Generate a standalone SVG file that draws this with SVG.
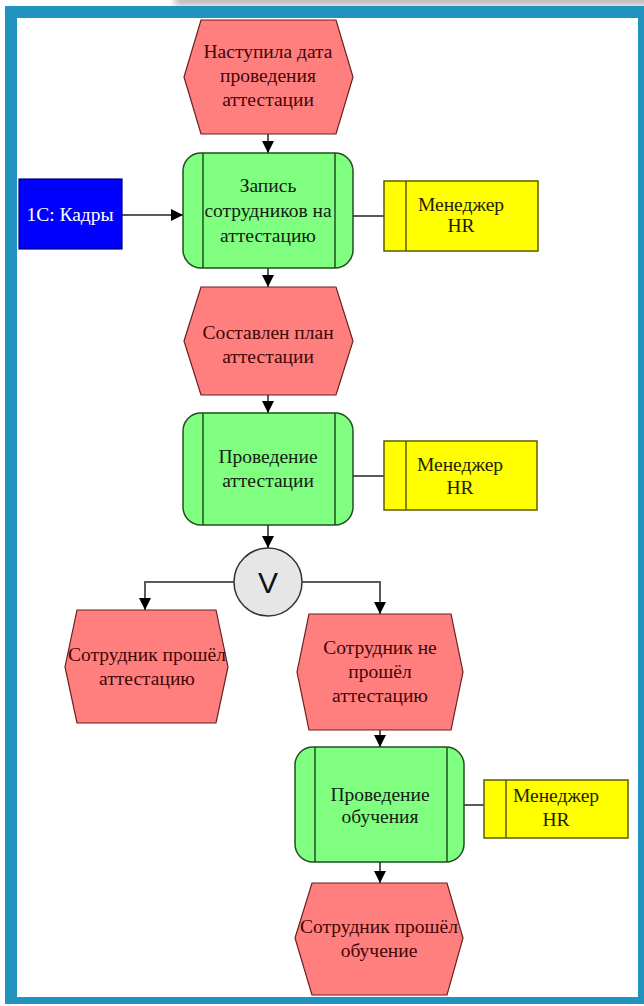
<svg xmlns="http://www.w3.org/2000/svg" width="644" height="1006" viewBox="0 0 644 1006">
  <style>
    .frame { fill: #2293be; }
    .sheet { fill: #ffffff; }
    .event { fill: #ff7f7f; stroke: #6b1f1f; stroke-width: 1.2; }
    .func { fill: #80ff80; stroke: #1f4f1f; stroke-width: 1.5; }
    .func-bar { stroke: #1f4f1f; stroke-width: 1.5; }
    .role { fill: #ffff00; stroke: #5c5c00; stroke-width: 1.5; }
    .role-bar { stroke: #5c5c00; stroke-width: 1.5; }
    .system { fill: #0000ff; stroke: #00007a; stroke-width: 1.2; }
    .gate { fill: #e6e6e6; stroke: #333333; stroke-width: 1.5; }
    .t { font-family: "Liberation Serif", "Times New Roman", serif; font-size: 19.5px; text-anchor: middle; }
    .t-event { fill: #420606; }
    .t-func { fill: #142014; }
    .t-role { fill: #1e1e00; }
    .t-system { fill: #ffffff; }
    .t-gate { font-family: "Liberation Sans", Arial, sans-serif; font-size: 30px; text-anchor: middle; fill: #111111; }
    .link { fill: none; stroke: #5a5a5a; stroke-width: 2; }
  </style>
  <defs>
    <marker id="arrow" markerUnits="userSpaceOnUse" markerWidth="12" markerHeight="12" viewBox="0 0 12 12" refX="12" refY="6" orient="auto">
      <path d="M0,0 L12,6 L0,12 Z" fill="#000000"/>
    </marker>
    <filter id="soft" x="-10%" y="-100%" width="120%" height="300%">
      <feGaussianBlur stdDeviation="3"/>
    </filter>
  </defs>

  <!-- page background, drop shadow and framed sheet -->
  <rect x="0" y="0" width="644" height="1006" fill="#ffffff"/>
  <rect x="175" y="-6" width="480" height="12" fill="#bdbdbd" filter="url(#soft)"/>
  <rect class="frame" x="5" y="6" width="650" height="998"/>
  <rect class="sheet" x="17" y="18" width="621" height="979"/>

  <!-- connectors -->
  <g id="connectors">
    <line class="link" x1="268" y1="134" x2="268" y2="153" marker-end="url(#arrow)"/>
    <line class="link" x1="122" y1="215" x2="183" y2="215" marker-end="url(#arrow)"/>
    <line class="link" x1="353" y1="216" x2="384" y2="216"/>
    <line class="link" x1="268" y1="268" x2="268" y2="287" marker-end="url(#arrow)"/>
    <line class="link" x1="268" y1="395" x2="268" y2="413" marker-end="url(#arrow)"/>
    <line class="link" x1="353" y1="476" x2="384" y2="476"/>
    <line class="link" x1="268" y1="525" x2="268" y2="548" marker-end="url(#arrow)"/>
    <polyline class="link" points="234,582 145,582 145,610" marker-end="url(#arrow)"/>
    <polyline class="link" points="302,582 380,582 380,614" marker-end="url(#arrow)"/>
    <line class="link" x1="380" y1="730" x2="380" y2="747" marker-end="url(#arrow)"/>
    <line class="link" x1="464" y1="805" x2="484" y2="805"/>
    <line class="link" x1="380" y1="862" x2="380" y2="883" marker-end="url(#arrow)"/>
  </g>

  <!-- event: date of appraisal reached -->
  <g id="event-start">
    <polygon class="event" points="201,20 336,20 353,77 336,134 201,134 184,77"/>
    <text class="t t-event" x="268" y="58">Наступила дата</text>
    <text class="t t-event" x="268" y="82">проведения</text>
    <text class="t t-event" x="268" y="106">аттестации</text>
  </g>

  <!-- information system -->
  <g id="system-1c">
    <rect class="system" x="19" y="179" width="103" height="70"/>
    <text class="t t-system" x="70" y="221">1С: Кадры</text>
  </g>

  <!-- function: enrol employees -->
  <g id="func-enrol">
    <rect class="func" x="183" y="153" width="170" height="115" rx="18"/>
    <line class="func-bar" x1="203" y1="153" x2="203" y2="268"/>
    <line class="func-bar" x1="335" y1="153" x2="335" y2="268"/>
    <text class="t t-func" x="268" y="192">Запись</text>
    <text class="t t-func" x="268" y="217">сотрудников на</text>
    <text class="t t-func" x="268" y="242">аттестацию</text>
  </g>

  <g id="role-hr-1">
    <rect class="role" x="384" y="181" width="154" height="70"/>
    <line class="role-bar" x1="406" y1="181" x2="406" y2="251"/>
    <text class="t t-role" x="461" y="211">Менеджер</text>
    <text class="t t-role" x="461" y="232">HR</text>
  </g>

  <!-- event: plan compiled -->
  <g id="event-plan">
    <polygon class="event" points="201,287 336,287 353,341 336,395 201,395 184,341"/>
    <text class="t t-event" x="268" y="339">Составлен план</text>
    <text class="t t-event" x="268" y="363">аттестации</text>
  </g>

  <!-- function: conduct appraisal -->
  <g id="func-appraisal">
    <rect class="func" x="183" y="413" width="170" height="112" rx="18"/>
    <line class="func-bar" x1="203" y1="413" x2="203" y2="525"/>
    <line class="func-bar" x1="335" y1="413" x2="335" y2="525"/>
    <text class="t t-func" x="268" y="463">Проведение</text>
    <text class="t t-func" x="268" y="487">аттестации</text>
  </g>

  <g id="role-hr-2">
    <rect class="role" x="384" y="441" width="153" height="69"/>
    <line class="role-bar" x1="406" y1="441" x2="406" y2="510"/>
    <text class="t t-role" x="460" y="471">Менеджер</text>
    <text class="t t-role" x="460" y="494">HR</text>
  </g>

  <!-- OR connector -->
  <g id="gate-or">
    <circle class="gate" cx="268" cy="582" r="34"/>
    <text class="t-gate" x="268" y="593">V</text>
  </g>

  <!-- event: appraisal passed -->
  <g id="event-passed">
    <polygon class="event" points="77,610 216,610 228,667 216,723 77,723 65,667"/>
    <text class="t t-event" x="147" y="661">Сотрудник прошёл</text>
    <text class="t t-event" x="147" y="685">аттестацию</text>
  </g>

  <!-- event: appraisal failed -->
  <g id="event-failed">
    <polygon class="event" points="309,614 451,614 463,672 451,730 309,730 297,672"/>
    <text class="t t-event" x="380" y="654">Сотрудник не</text>
    <text class="t t-event" x="380" y="678">прошёл</text>
    <text class="t t-event" x="380" y="702">аттестацию</text>
  </g>

  <!-- function: training -->
  <g id="func-training">
    <rect class="func" x="295" y="747" width="169" height="115" rx="18"/>
    <line class="func-bar" x1="315" y1="747" x2="315" y2="862"/>
    <line class="func-bar" x1="447" y1="747" x2="447" y2="862"/>
    <text class="t t-func" x="380" y="801">Проведение</text>
    <text class="t t-func" x="380" y="823">обучения</text>
  </g>

  <g id="role-hr-3">
    <rect class="role" x="484" y="780" width="144" height="58"/>
    <line class="role-bar" x1="506" y1="780" x2="506" y2="838"/>
    <text class="t t-role" x="556" y="802">Менеджер</text>
    <text class="t t-role" x="556" y="826">HR</text>
  </g>

  <!-- event: training completed -->
  <g id="event-trained">
    <polygon class="event" points="312,883 447,883 463,938 447,995 312,995 295,938"/>
    <text class="t t-event" x="379" y="933">Сотрудник прошёл</text>
    <text class="t t-event" x="379" y="957">обучение</text>
  </g>
</svg>
